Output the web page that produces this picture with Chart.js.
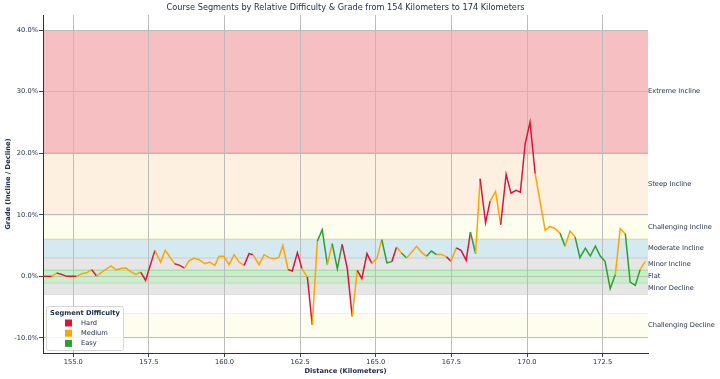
<!DOCTYPE html>
<html>
<head>
<meta charset="utf-8">
<title>Course Segments by Relative Difficulty</title>
<script src="https://cdn.jsdelivr.net/npm/chart.js@4.4.1/dist/chart.umd.min.js"></script>
<style>
  html, body { margin: 0; padding: 0; background: #fff; }
</style>
</head>
<body>
<canvas id="chart" width="720" height="379"></canvas>
<script>
// course profile
const distanceKm = [
  154.00, 154.29, 154.45, 154.62, 154.78, 155.11, 155.28, 155.44, 155.61, 155.77,
  155.99, 156.25, 156.42, 156.60, 156.74, 156.90, 157.07, 157.23, 157.39, 157.70,
  157.89, 158.04, 158.35, 158.52, 158.68, 158.82, 158.99, 159.16, 159.35, 159.51,
  159.68, 159.82, 159.98, 160.15, 160.32, 160.48, 160.65, 160.81, 160.94, 161.14,
  161.31, 161.49, 161.66, 161.80, 161.93, 162.10, 162.24, 162.41, 162.56, 162.74,
  162.90, 163.07, 163.23, 163.40, 163.56, 163.73, 163.89, 164.06, 164.22, 164.39,
  164.54, 164.71, 164.87, 165.04, 165.20, 165.37, 165.53, 165.69, 165.85, 166.02,
  166.18, 166.35, 166.51, 166.68, 166.84, 167.01, 167.17, 167.34, 167.49, 167.66,
  167.82, 167.99, 168.13, 168.30, 168.45, 168.63, 168.78, 168.96, 169.13, 169.31,
  169.47, 169.64, 169.78, 169.94, 170.10, 170.27, 170.60, 170.76, 170.93, 171.09,
  171.26, 171.42, 171.59, 171.75, 171.93, 172.09, 172.26, 172.42, 172.58, 172.75,
  172.92, 173.08, 173.25, 173.41, 173.58, 173.74, 173.91,
];

const gradePct = [
  0.00, 0.00, 0.54, 0.32, 0.00, 0.00, 0.44, 0.57, 1.09, 0.05,
  0.86, 1.70, 1.06, 1.30, 1.35, 0.76, 0.32, 0.70, -0.65, 4.22,
  2.32, 4.22, 2.06, 1.79, 1.35, 2.48, 2.97, 2.71, 2.06, 2.32,
  1.79, 3.25, 3.25, 1.90, 3.52, 2.32, 1.79, 3.69, 3.52, 1.90,
  3.52, 3.00, 2.87, 3.13, 5.03, 1.09, 0.86, 3.85, 1.25, -0.11,
  -7.90, 5.73, 7.58, 1.90, 5.31, 1.25, 5.19, 1.25, -6.49, 0.97,
  -0.37, 3.69, 2.11, 2.97, 5.96, 2.19, 2.39, 4.76, 3.81, 2.97,
  3.86, 4.87, 3.94, 3.25, 4.11, 3.54, 3.57, 3.17, 2.44, 4.63,
  4.22, 2.60, 7.19, 3.69, 15.86, 8.72, 12.22, 13.80, 8.39, 16.56,
  13.52, 13.96, 13.69, 21.54, 25.05, 16.67, 7.47, 8.12, 7.74, 7.03,
  4.87, 7.35, 6.38, 3.04, 4.59, 3.30, 4.92, 3.30, 2.44, -2.00,
  0.32, 7.74, 6.93, -0.93, -1.46, 1.09, 2.44,
];

// difficulty of the segment that starts at each point (H / M / E)
const segmentDifficulty = [
  "H", "M", "H", "H", "H", "M", "M", "M", "H", "M",
  "M", "M", "M", "M", "M", "M", "M", "H", "H", "M",
  "M", "M", "H", "H", "M", "M", "M", "M", "M", "M",
  "M", "M", "M", "M", "M", "M", "H", "H", "M", "M",
  "M", "M", "M", "M", "M", "H", "H", "H", "M", "H",
  "M", "E", "E", "M", "E", "E", "H", "H", "M", "H",
  "H", "H", "M", "M", "E", "E", "H", "M", "E", "M",
  "M", "M", "M", "E", "E", "M", "M", "H", "M", "H",
  "H", "H", "E", "M", "H", "H", "M", "M", "H", "H",
  "H", "H", "H", "H", "H", "M", "M", "M", "M", "E",
  "M", "M", "E", "E", "E", "E", "E", "E", "E", "E",
  "M", "M", "E", "E", "E", "M",
];

const difficultyCodes = ["H", "M", "E"];
const difficultyNames = ["Hard", "Medium", "Easy"];

const xTicks = [155, 157.5, 160, 162.5, 165, 167.5, 170, 172.5];
const yTicks = [-10, 0, 10, 20, 30, 40];

// grade bands (percent)
const bandNames = [
  "Extreme Incline", "Steep Incline", "Challenging Incline", "Moderate Incline",
  "Minor Incline", "Flat", "Minor Decline", "Moderate Decline", "Challenging Decline",
];
const bandLow = [20, 10, 6, 3, 1, -1, -3, -6, -10];
const bandHigh = [40, 20, 10, 6, 3, 1, -1, -3, -6];

const bandLabels = [
  "Extreme Incline", "Steep Incline", "Challenging Incline", "Moderate Incline",
  "Minor Incline", "Flat", "Minor Decline", "Challenging Decline",
];
const bandLabelValues = [30, 15, 8, 4.5, 2, 0, -2, -8];

const FONT = "DejaVu Sans";
const TEXT = "#22304d";
const LINE_COLORS = { H: "#dc143c", M: "#ffa500", E: "#2ca02c" };
const BAND_FILL = {
  "Extreme Incline": "#f6bfc1",
  "Steep Incline": "#fdf0e1",
  "Challenging Incline": "#fefeee",
  "Moderate Incline": "#d4e9f0",
  "Minor Incline": "#e6e6e6",
  "Flat": "#c8f0c8",
  "Minor Decline": "#e6e6e6",
  "Moderate Decline": "#ffffff",
  "Challenging Decline": "#fefeee",
};
const BAND_EDGE = {
  "Extreme Incline": "#ecb2b4",
  "Steep Incline": "#f3e4d3",
  "Challenging Incline": "#f1f1dc",
  "Moderate Incline": "#c4dde6",
  "Minor Incline": "#d9d9d9",
  "Flat": "#a8e0a8",
  "Minor Decline": "#d9d9d9",
  "Moderate Decline": null,
  "Challenging Decline": "#f1f1dc",
};

Chart.defaults.font.family = FONT;
Chart.defaults.color = TEXT;

const bandPlugin = {
  id: "gradeBands",
  beforeDraw(chart) {
    const { ctx, chartArea: a, scales: { y } } = chart;
    ctx.save();
    bandNames.forEach((name, i) => {
      const top = y.getPixelForValue(bandHigh[i]);
      const bot = y.getPixelForValue(bandLow[i]);
      ctx.fillStyle = BAND_FILL[name];
      ctx.fillRect(a.left, top, a.right - a.left, bot - top);
      if (BAND_EDGE[name]) {
        ctx.strokeStyle = BAND_EDGE[name];
        ctx.lineWidth = 1;
        ctx.beginPath();
        ctx.moveTo(a.left, Math.round(top) + 0.5);
        ctx.lineTo(a.right, Math.round(top) + 0.5);
        ctx.moveTo(a.left, Math.round(bot) - 0.5);
        ctx.lineTo(a.right, Math.round(bot) - 0.5);
        ctx.stroke();
      }
    });
    ctx.restore();
  },
};

const legendPlugin = {
  id: "difficultyLegend",
  afterDraw(chart) {
    const { ctx, chartArea: a } = chart;
    const w = 77, h = 44;
    const x = a.left + 3, y = a.bottom - h - 3;
    ctx.save();
    ctx.fillStyle = "rgba(255,255,255,0.85)";
    ctx.strokeStyle = "#d6d6d6";
    ctx.lineWidth = 1;
    ctx.beginPath();
    ctx.roundRect(x + 0.5, y + 0.5, w, h, 2);
    ctx.fill();
    ctx.stroke();

    ctx.fillStyle = TEXT;
    ctx.textBaseline = "middle";
    ctx.textAlign = "center";
    ctx.font = `bold 6.7px "${FONT}"`;
    ctx.fillText("Segment Difficulty", x + w / 2 + 0.5, y + 7);

    ctx.textAlign = "left";
    ctx.font = `6.7px "${FONT}"`;
    difficultyCodes.forEach((code, i) => {
      const cy = y + 17 + i * 10.2;
      ctx.fillStyle = LINE_COLORS[code];
      ctx.fillRect(x + 19, cy - 3.5, 7, 7);
      ctx.fillStyle = TEXT;
      ctx.fillText(difficultyNames[i], x + 35, cy);
    });
    ctx.restore();
  },
};

const tickFont = { size: 6.7, family: FONT };

new Chart(document.getElementById("chart"), {
  type: "line",
  data: {
    datasets: [{
      data: distanceKm.map((x, i) => ({ x, y: gradePct[i] })),
      borderColor: LINE_COLORS.H,
      borderWidth: 1.5,
      pointRadius: 0,
      tension: 0,
      segment: {
        borderColor: (c) => LINE_COLORS[segmentDifficulty[c.p0DataIndex]],
      },
    }],
  },
  options: {
    responsive: false,
    animation: false,
    layout: { padding: 0 },
    plugins: {
      legend: { display: false },
      tooltip: { enabled: false },
      title: {
        display: true,
        fullSize: false,
        text: "Course Segments by Relative Difficulty & Grade from 154 Kilometers to 174 Kilometers",
        color: TEXT,
        font: { size: 8.2, weight: "normal", family: FONT },
        padding: { top: 3.3, bottom: 1.9 },
      },
    },
    scales: {
      x: {
        type: "linear",
        min: 154,
        max: 174,
        afterBuildTicks: (s) => { s.ticks = xTicks.map((value) => ({ value })); },
        afterFit: (s) => { s.height = 26; },
        ticks: {
          autoSkip: false,
          maxRotation: 0,
          padding: 1,
          font: tickFont,
          color: TEXT,
          callback: (v) => Number(v).toFixed(1),
        },
        grid: { color: "#bcbcbc", tickColor: "#444", tickLength: 4 },
        border: { color: "#333", width: 1 },
        title: {
          display: true,
          text: "Distance (Kilometers)",
          color: TEXT,
          font: { size: 6.7, weight: "bold", family: FONT },
          padding: { top: 0, bottom: 4 },
        },
      },
      y: {
        position: "left",
        min: -12.45,
        max: 42.45,
        afterBuildTicks: (s) => { s.ticks = yTicks.map((value) => ({ value })); },
        afterFit: (s) => { s.width = 43; },
        ticks: {
          autoSkip: false,
          padding: 1,
          font: tickFont,
          color: TEXT,
          callback: (v) => `${Number(v).toFixed(1)}%`,
        },
        grid: { color: "#bcbcbc", tickColor: "#444", tickLength: 4 },
        border: { color: "#333", width: 1 },
        title: {
          display: true,
          text: "Grade (Incline / Decline)",
          color: TEXT,
          font: { size: 6.7, weight: "bold", family: FONT },
          padding: { top: 4, bottom: 0 },
        },
      },
      bands: {
        position: "right",
        min: -12.45,
        max: 42.45,
        afterBuildTicks: (s) => { s.ticks = bandLabelValues.map((value) => ({ value })); },
        afterFit: (s) => { s.width = 72; },
        ticks: {
          autoSkip: false,
          padding: 0,
          font: tickFont,
          color: TEXT,
          callback: (v) => bandLabels[bandLabelValues.indexOf(v)],
        },
        grid: { display: false, drawTicks: false },
        border: { display: false },
      },
    },
  },
  plugins: [bandPlugin, legendPlugin],
});
</script>
</body>
</html>
